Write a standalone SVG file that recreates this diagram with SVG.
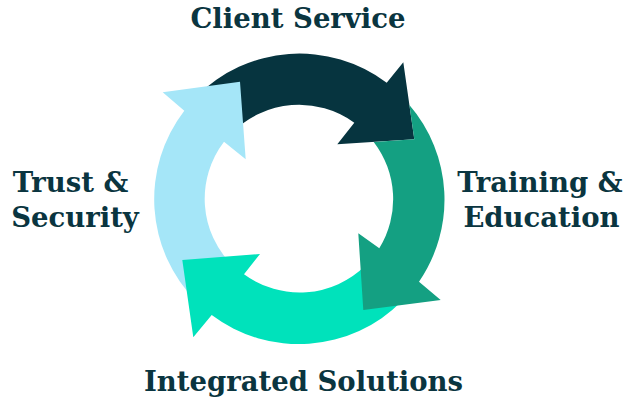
<svg xmlns="http://www.w3.org/2000/svg" width="626" height="399" viewBox="0 0 626 399">
  <style>
    .lbl { font-family: "DejaVu Serif", "Liberation Serif", serif; font-weight: bold; font-size: 27.5px; fill: #0A3540; text-anchor: middle; }
  </style>
  <rect width="626" height="399" fill="#FFFFFF"/>
  <g id="cycle">
    <g id="arrow-client-service">
      <path fill="#06343F" d="M 196.5 96.5 A 145 145 0 0 1 386.7 82.7 L 403.3 62.3 L 414.3 139.3 L 337.3 144.3 L 354.3 122.7 A 94 94 0 0 0 232.5 132.5 Z"/>
    </g>
    <g id="arrow-trust-security">
      <path fill="#A5E6F8" d="M 196.5 301.5 A 145 145 0 0 1 184.3 110.7 L 162.7 92.3 L 240 81.7 L 245.7 159.3 L 224 141.7 A 94 94 0 0 0 232.5 265.5 Z"/>
    </g>
    <g id="arrow-integrated-solutions">
      <path fill="#00E2BB" d="M 401.5 301.5 A 145 145 0 0 1 211.7 315 L 193.3 337.3 L 182.3 260 L 260 254 L 244 274.3 A 94 94 0 0 0 365.5 265.5 Z"/>
    </g>
    <g id="arrow-training-education">
      <path fill="#14A082" d="M 409.4 105 L 414.3 139.3 L 373.7 141.9 A 94 94 0 0 1 379.3 248.3 L 358.3 233.3 L 363.3 310 L 440.7 300 L 419 281.7 A 145 145 0 0 0 409.4 105 Z"/>
    </g>
  </g>
  <g id="label-client-service"><text class="lbl" x="298" y="28">Client Service</text></g>
  <g id="label-trust-security">
    <text class="lbl" x="70.5" y="191.5">Trust &amp;</text>
    <text class="lbl" x="75" y="226.5">Security</text>
  </g>
  <g id="label-training-education">
    <text class="lbl" x="540" y="191.5">Training &amp;</text>
    <text class="lbl" x="541.5" y="226.5">Education</text>
  </g>
  <g id="label-integrated-solutions"><text class="lbl" x="303.5" y="390.5">Integrated Solutions</text></g>
</svg>
